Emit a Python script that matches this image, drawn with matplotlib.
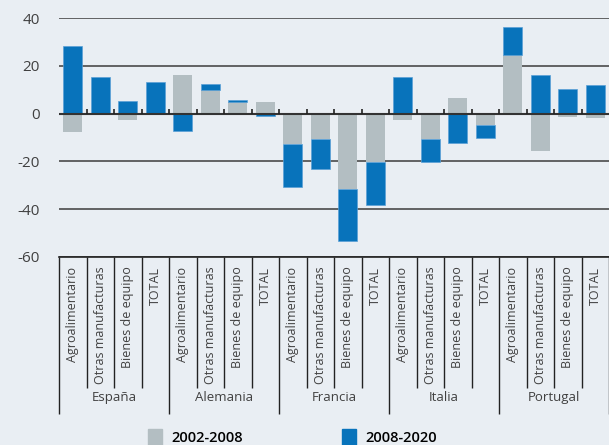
import matplotlib
matplotlib.use("Agg")
from matplotlib import pyplot as plt
from matplotlib.patches import Patch
import numpy as np

plt.rcParams['font.family'] = ['Open Sans', 'DejaVu Sans']
plt.rcParams['axes.unicode_minus'] = False

paises = ['España', 'Alemania', 'Francia', 'Italia', 'Portugal']
sectores = ['Agroalimentario', 'Otras manufacturas', 'Bienes de equipo', 'TOTAL']

# 2002-2008 y 2008-2020, por país (4 sectores cada uno)
p1 = [-7.7, 0.0, -2.5, 0.0,
      16.2, 9.9, 5.0, 4.9,
      -12.9, -10.6, -31.7, -20.3,
      -2.5, -10.6, 6.6, -4.8,
      24.6, -15.5, -1.3, -1.7]
p2 = [28.1, 15.5, 5.3, 13.3,
      -7.4, 2.4, 0.7, -0.8,
      -17.8, -12.5, -21.7, -17.9,
      15.5, -9.5, -12.2, -5.3,
      11.6, 16.2, 10.3, 12.0]

bg = '#e9eef3'
gris = '#b3bec2'
azul = '#0873bb'

p1 = np.array(p1)
p2 = np.array(p2)
x = np.arange(len(p1))

# apilado tipo Excel: positivos hacia arriba, negativos hacia abajo
base2 = np.where(np.sign(p2) == np.sign(p1), p1, 0)

fig = plt.figure(figsize=(6.09, 4.45), dpi=100, facecolor=bg)
ax = fig.add_axes([59/609, 1-257/445, 550/609, 239/445], facecolor=bg)

ax.bar(x, p1, width=0.68, color=gris, zorder=3)
ax.bar(x, p2, bottom=base2, width=0.68, color=azul, edgecolor='#5aa0d6', linewidth=0.5, zorder=3)

ax.set_xlim(-0.5, len(p1) - 0.5)
ax.set_ylim(-60, 40)
ax.set_yticks([-60, -40, -20, 0, 20, 40])
ax.yaxis.grid(True, color='#4a4a4a', linewidth=1.2, zorder=1)
ax.axhline(0, color='#333333', linewidth=1.5, zorder=4)
ax.vlines(x[1:] - 0.5, 0, 1.9, color='#222222', linewidth=1.2, zorder=4)

for s in ['left', 'right', 'top']:
    ax.spines[s].set_visible(False)
ax.spines['bottom'].set_color('#222222')
ax.spines['bottom'].set_linewidth(1.2)

ax.tick_params(axis='y', length=0, labelsize=11, labelcolor='#404040', pad=14)

bordes = np.arange(len(p1) + 1) - 0.5
ax.set_xticks(bordes[::4])
ax.set_xticks(bordes, minor=True)
ax.tick_params(axis='x', which='major', length=113, width=1.0, color='#222222', labelbottom=False)
ax.tick_params(axis='x', which='minor', length=94, width=1.0, color='#222222')

etiquetas = sectores * len(paises)
for i, lab in enumerate(etiquetas):
    ax.annotate(lab, xy=(x[i], 0), xycoords=('data', 'axes fraction'),
                xytext=(0, -7), textcoords='offset points', rotation=90,
                ha='center', va='top', fontsize=9, color='#404040')
for j, pais in enumerate(paises):
    ax.annotate(pais, xy=(4 * j + 1.5, 0), xycoords=('data', 'axes fraction'),
                xytext=(0, -101), textcoords='offset points',
                ha='center', va='center', fontsize=9.5, color='#404040')

h = [Patch(color=gris), Patch(color=azul)]
fig.legend(h, ['2002-2008', '2008-2020'], loc='center', bbox_to_anchor=(0.48, 1-437/445),
           ncol=2, frameon=False, columnspacing=6.8, handlelength=1.0,
           handleheight=1.3, handletextpad=0.6,
           prop={'weight': 'semibold', 'size': 10.5})

fig.savefig('out.png', dpi=100, facecolor=bg)
